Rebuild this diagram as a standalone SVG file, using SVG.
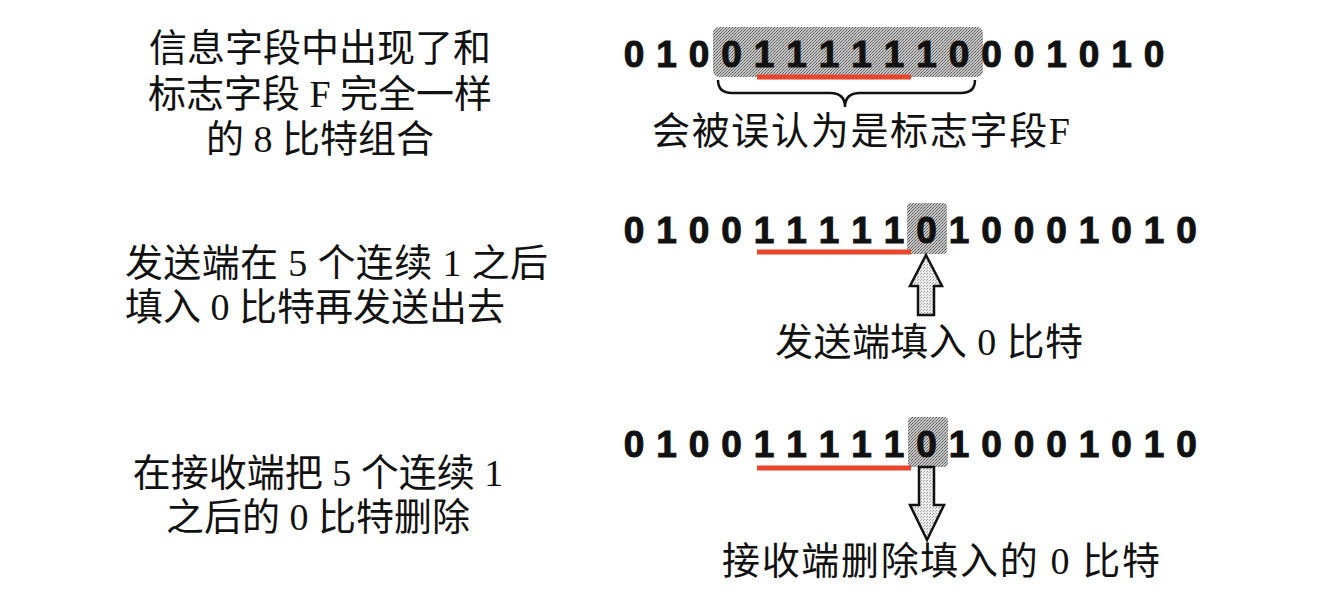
<svg xmlns="http://www.w3.org/2000/svg" width="1344" height="596" viewBox="0 0 1344 596">
<style>
.cn{font-family:"Liberation Serif","Noto Sans CJK SC",serif;font-size:38px;fill:#111}
.bits{font-family:"Liberation Sans",Arial,sans-serif;font-weight:bold;font-size:37px;fill:#111;stroke:#111;stroke-width:1;text-anchor:middle}
.red{stroke:#e8452c;stroke-width:5;fill:none}
.shade{fill:url(#dots)}
.brace{fill:none;stroke:#111;stroke-width:2.5}
.arrow{fill:url(#lightdots);stroke:#111;stroke-width:2.5;stroke-linejoin:miter}
</style>
<defs>
<pattern id="dots" width="3" height="3" patternUnits="userSpaceOnUse">
<rect width="3" height="3" fill="#c4c4c4"/>
<rect x="0" y="0" width="1" height="1" fill="#5a5a5a"/>
<rect x="2" y="1" width="1" height="1" fill="#6a6a6a"/>
<rect x="1" y="2" width="1" height="1" fill="#7a7a7a"/>
</pattern>
<pattern id="lightdots" width="3" height="3" patternUnits="userSpaceOnUse">
<rect width="3" height="3" fill="#ececec"/>
<rect x="0" y="0" width="1" height="1" fill="#9a9a9a"/>
<rect x="2" y="1" width="1" height="1" fill="#b0b0b0"/>
</pattern>
</defs>
<rect width="1344" height="596" fill="#fff"/>

<g id="left-text-1">
<text class="cn" x="320" y="61" text-anchor="middle">信息字段中出现了和</text>
<text class="cn" x="320" y="107" text-anchor="middle">标志字段 F 完全一样</text>
<text class="cn" x="320" y="152" text-anchor="middle">的 8 比特组合</text>
</g>
<g id="left-text-2">
<text class="cn" x="125" y="276" textLength="423" lengthAdjust="spacing">发送端在 5 个连续 1 之后</text>
<text class="cn" x="125" y="320">填入 0 比特再发送出去</text>
</g>
<g id="left-text-3">
<text class="cn" x="318" y="486" text-anchor="middle">在接收端把 5 个连续 1</text>
<text class="cn" x="318" y="530" text-anchor="middle">之后的 0 比特删除</text>
</g>

<g id="row1">
<rect class="shade" x="713" y="27" width="270" height="50" rx="6"/>
<text class="bits" x="634 666.5 699 731.5 764 796.5 829 861.5 894 926.5 959 991.5 1024 1056.5 1089 1121.5 1154" y="67">01001111110001010</text>
<line class="red" x1="757" y1="77" x2="911" y2="77"/>
<path class="brace" d="M718,80 Q718,93 732,93 L830,93 Q845,93 845,107 Q845,93 860,93 L961,93 Q975,93 975,80"/>
<text class="cn" x="652" y="144" textLength="418" lengthAdjust="spacing">会被误认为是标志字段F</text>
</g>

<g id="row2">
<rect class="shade" x="907" y="203" width="40" height="51" rx="4"/>
<text class="bits" x="634 666.5 699 731.5 764 796.5 829 861.5 894 926.5 959 991.5 1024 1056.5 1089 1121.5 1154 1186.5" y="243">010011111010001010</text>
<line class="red" x1="757" y1="252" x2="911" y2="252"/>
<path class="arrow" d="M926,255 L942,286 L934,286 L934,315 L918,315 L918,286 L910,286 Z"/>
<text class="cn" x="775" y="355" textLength="308" lengthAdjust="spacing">发送端填入 0 比特</text>
</g>

<g id="row3">
<rect class="shade" x="908" y="417" width="40" height="50" rx="4"/>
<text class="bits" x="634 666.5 699 731.5 764 796.5 829 861.5 894 926.5 959 991.5 1024 1056.5 1089 1121.5 1154 1186.5" y="457">010011111010001010</text>
<line class="red" x1="757" y1="468" x2="911" y2="468"/>
<path class="arrow" d="M919,467 L934,467 L934,505 L944,505 L927,540 L910,505 L919,505 Z"/>
<text class="cn" x="722" y="574" textLength="438" lengthAdjust="spacing">接收端删除填入的 0 比特</text>
</g>
</svg>
